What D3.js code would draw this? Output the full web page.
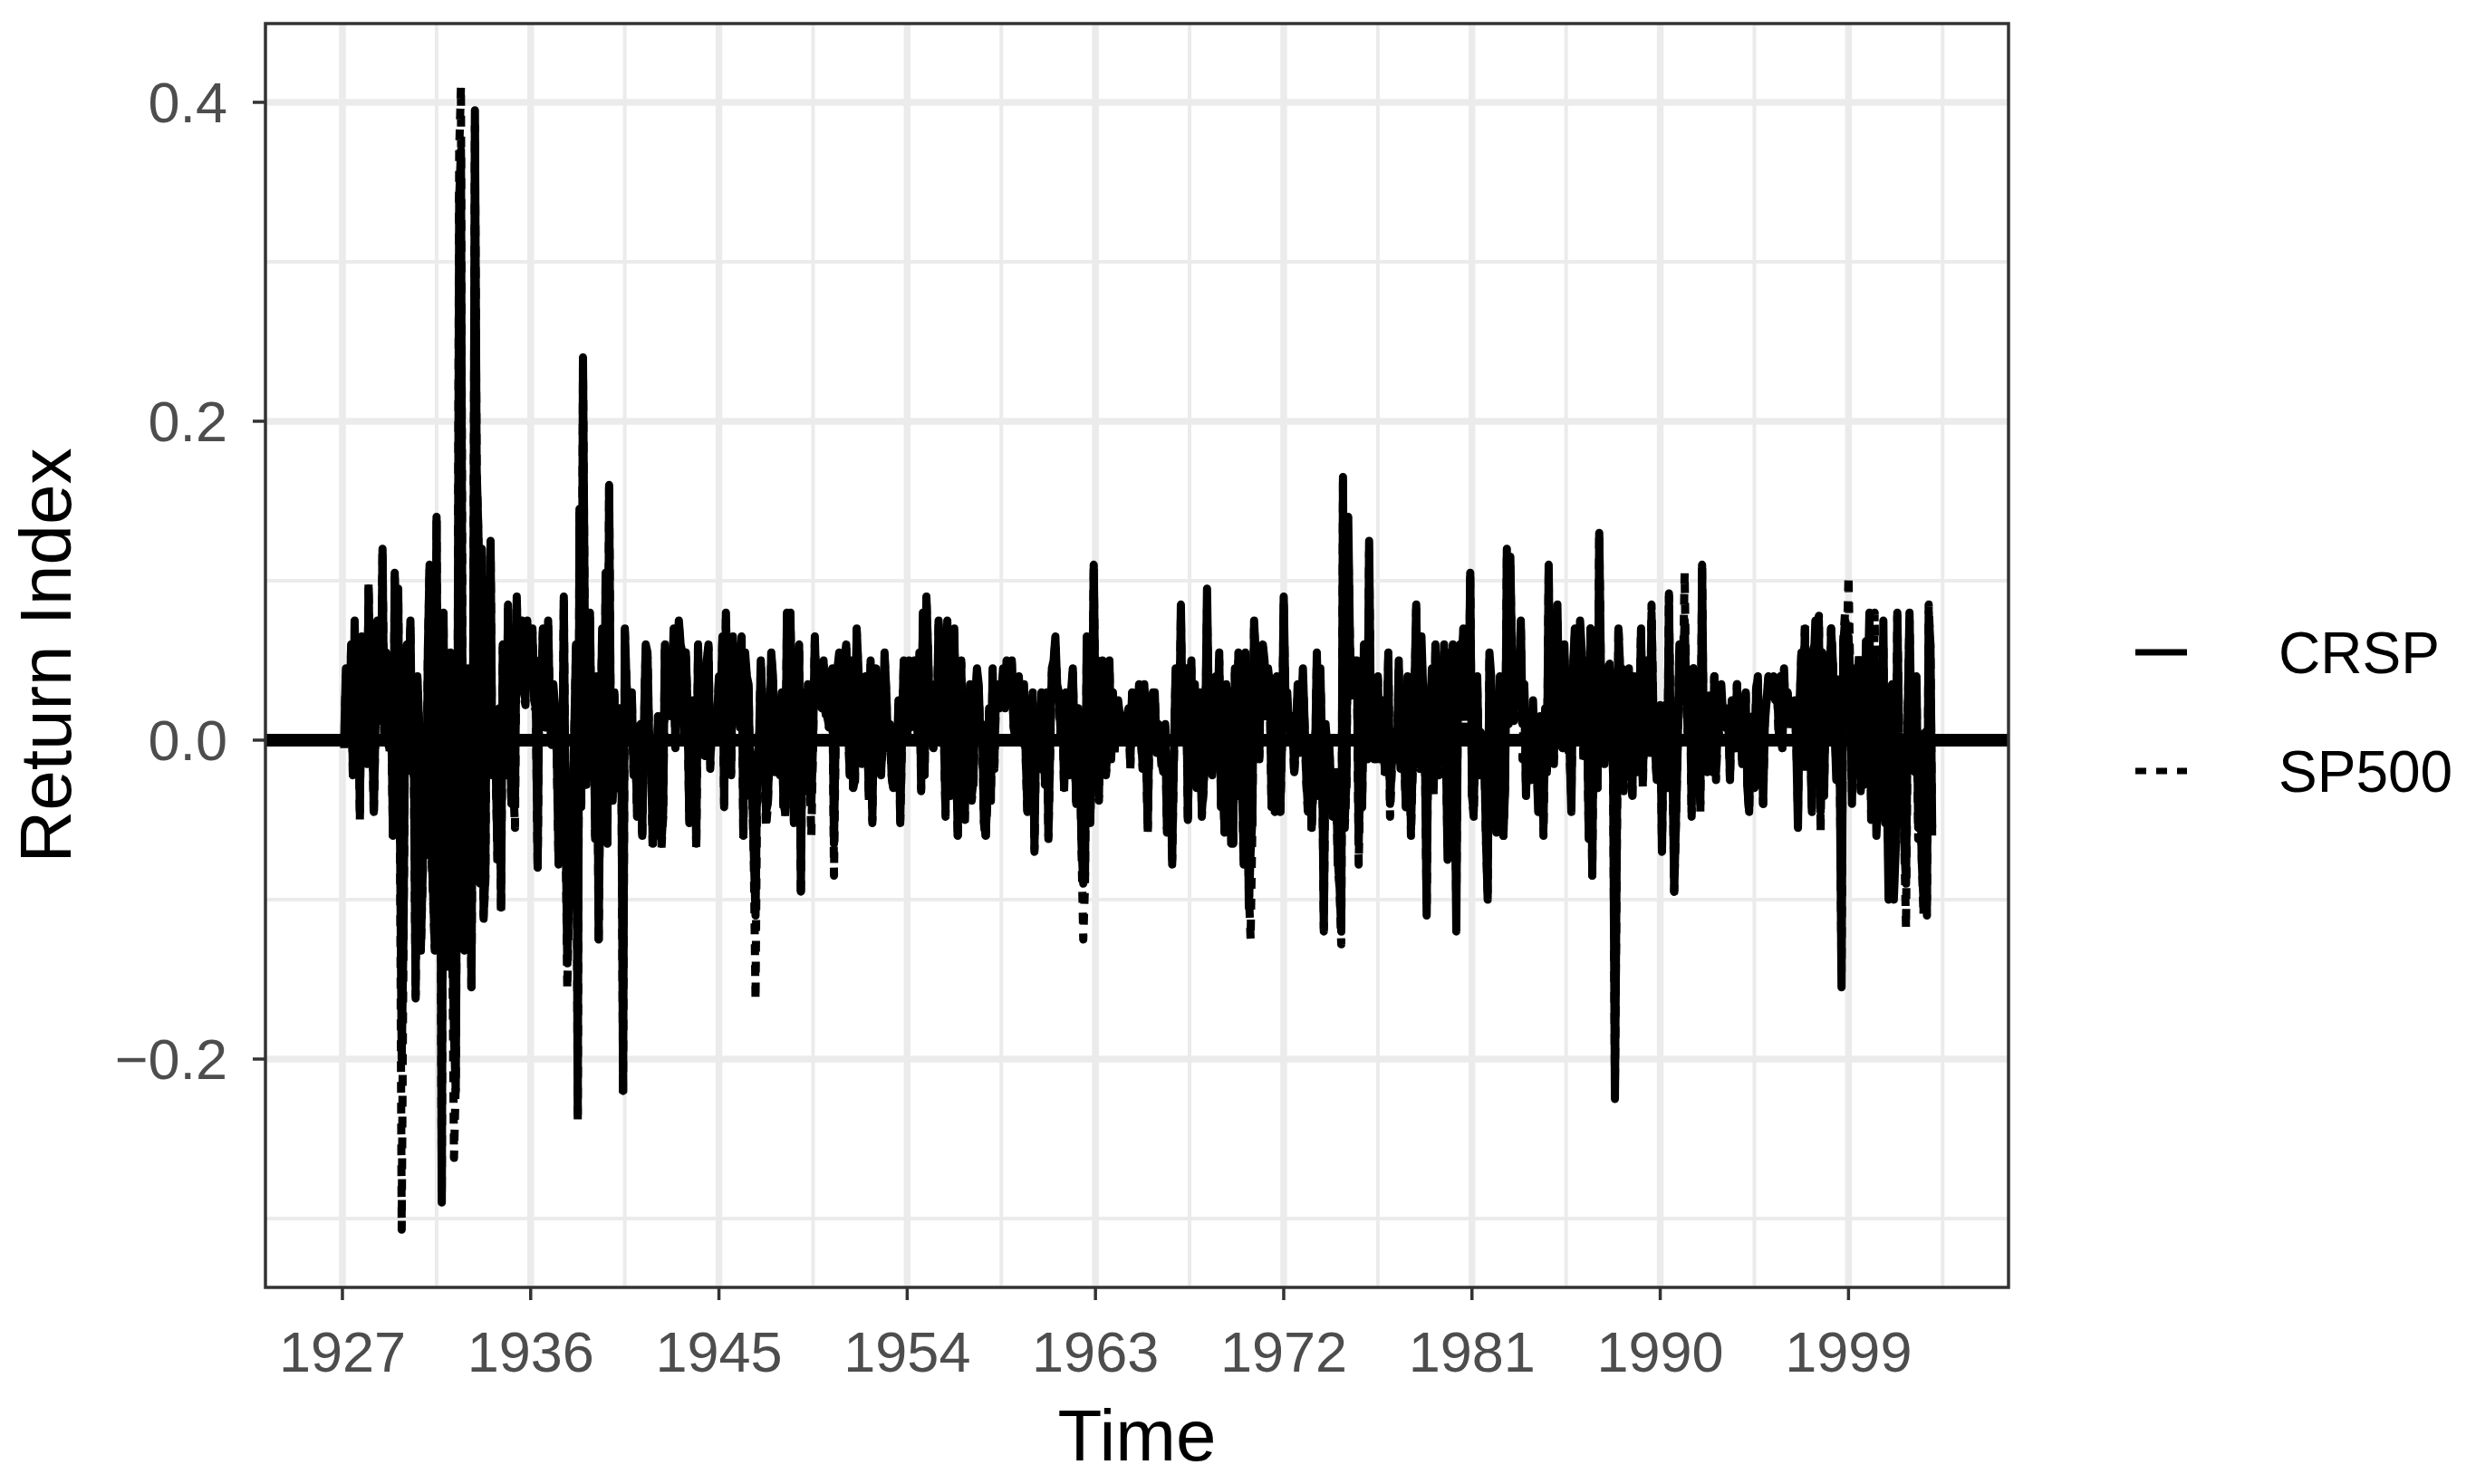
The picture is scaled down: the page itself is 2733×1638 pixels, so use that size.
<!DOCTYPE html>
<html><head><meta charset="utf-8">
<script src="https://cdn.jsdelivr.net/npm/d3@7"></script>
<style>body{margin:0;background:#fff}</style></head>
<body>
<svg id="chart" width="2733" height="1638"></svg>
<script>
// Monthly returns, Jan 1927 .. Dec 2002
const startYear = 1927;
const seriesNames = ["CRSP", "SP500"];
const crsp = [
/*1927*/ .000,.045,.008,.012,.060,-.022,.075,.020,.045,-.045,.065,.025,
/*1928*/ -.005,-.015,.095,.035,.015,-.045,.012,.075,.025,.015,.120,.005,
/*1929*/ .055,-.002,-.005,.018,-.060,.105,.045,.095,-.050,-.200,-.125,.020,
/*1930*/ .060,.025,.075,-.020,-.015,-.160,.040,.010,-.130,-.085,-.030,-.070,
/*1931*/ .055,.110,-.065,-.095,-.130,.140,-.070,.005,-.290,.080,-.090,-.140,
/*1932*/ -.020,.055,-.115,-.185,-.220,-.005,.340,.370,-.030,-.130,-.060,.045,
/*1933*/ .010,-.155,.035,.395,.170,.130,-.090,.120,-.110,-.085,.100,.020,
/*1934*/ .125,-.020,.000,-.020,-.075,.020,-.105,.060,-.003,-.020,.085,.005,
/*1935*/ -.040,-.025,-.040,.090,.040,.070,.075,.030,.025,.075,.050,.045,
/*1936*/ .070,.025,.020,-.080,.050,.030,.070,.010,.010,.075,.020,-.003,
/*1937*/ .035,.020,-.010,-.075,-.010,-.050,.090,-.050,-.140,-.100,-.085,-.045,
/*1938*/ .005,.060,-.235,.145,-.040,.240,.075,-.025,.010,.080,-.020,.040,
/*1939*/ -.060,.040,-.125,-.005,.070,-.050,.105,-.065,.160,-.005,-.035,.030,
/*1940*/ -.030,.010,.020,-.002,-.220,.070,.035,.020,.015,.030,-.020,.005,
/*1941*/ -.045,-.015,.010,-.060,.010,.060,.055,.000,-.007,-.065,-.025,-.045,
/*1942*/ .015,-.025,-.065,-.045,.060,.025,.035,.015,.025,.070,-.005,.055,
/*1943*/ .075,.060,.055,.005,.055,.020,-.050,.015,.025,-.010,-.065,.060,
/*1944*/ .017,.003,.025,-.010,.050,.060,-.015,.015,.000,.002,.015,.040,
/*1945*/ .020,.065,-.040,.080,.020,.000,-.020,.065,.045,.035,.050,.010,
/*1946*/ .065,-.060,.055,.040,.035,-.035,-.025,-.070,-.110,-.010,-.002,.050,
/*1947*/ .025,-.010,-.045,-.040,-.005,.055,.040,-.020,-.010,.025,-.020,.030,
/*1948*/ -.040,-.045,.080,.030,.080,.000,-.050,.005,-.030,.060,-.095,.030,
/*1949*/ .005,-.030,.035,-.020,-.040,.000,.065,.025,.030,.030,.020,.050,
/*1950*/ .020,.015,.010,.040,.045,-.065,.010,.045,.055,.005,.020,.050,
/*1951*/ .060,.015,-.020,.050,-.030,-.025,.070,.045,.000,-.015,.005,.040,
/*1952*/ .015,-.035,.050,-.050,.030,.045,.010,-.010,-.020,.000,.055,.030,
/*1953*/ -.005,.010,-.020,-.030,.000,-.015,.025,-.050,.000,.050,.030,.000,
/*1954*/ .050,.010,.035,.050,.030,.005,.055,-.030,.080,-.020,.090,.055,
/*1955*/ .010,.020,-.005,.035,.010,.075,.055,.000,.010,-.045,.075,.015,
/*1956*/ -.035,.040,.070,.000,-.060,.040,.050,-.035,-.050,.005,-.005,.035,
/*1957*/ -.035,-.025,.020,.045,.035,.000,.010,-.050,-.060,-.035,.020,-.035,
/*1958*/ .045,-.015,.035,.030,.020,.030,.045,.020,.050,.030,.030,.050,
/*1959*/ .010,.005,.000,.040,.020,.000,.035,-.010,-.045,.015,.015,.030,
/*1960*/ -.068,.010,-.015,-.015,.030,.020,-.025,.030,-.060,-.005,.045,.050,
/*1961*/ .065,.035,.030,.005,.025,-.030,.030,.025,-.020,.030,.045,.000,
/*1962*/ -.040,.020,-.005,-.065,-.090,-.085,.065,.020,-.050,.005,.110,.015,
/*1963*/ .050,-.035,.035,.050,.015,-.020,-.005,.050,-.010,.030,-.005,.020,
/*1964*/ .025,.015,.015,.005,.015,.015,.020,-.015,.030,.010,.000,.005,
/*1965*/ .035,.005,-.015,.035,-.005,-.055,.015,.025,.030,.030,-.005,.010,
/*1966*/ .005,-.015,-.020,.010,-.055,-.015,-.015,-.075,-.010,.045,.010,.000,
/*1967*/ .085,.010,.040,.045,-.050,.020,.050,-.010,.035,-.030,.005,.030,
/*1968*/ -.045,-.030,.005,.095,.020,.010,-.020,.015,.040,.010,.055,-.040,
/*1969*/ -.010,-.055,.035,.020,.000,-.065,-.065,.045,-.025,.055,-.035,-.020,
/*1970*/ -.075,.055,.000,-.105,-.070,-.050,.075,.050,.040,-.010,.050,.060,
/*1971*/ .050,.015,.045,.035,-.040,.000,-.045,.040,-.005,-.045,.000,.090,
/*1972*/ .025,.030,.010,.005,.015,-.020,.000,.035,-.005,.010,.045,.010,
/*1973*/ -.025,-.045,-.005,-.055,-.025,-.010,.055,-.035,.045,-.005,-.120,.010,
/*1974*/ -.005,.000,-.025,-.045,-.040,-.020,-.075,-.090,-.120,.165,-.050,-.025,
/*1975*/ .140,.060,.030,.045,.050,.050,-.065,-.020,-.040,.060,.030,-.010,
/*1976*/ .125,.010,.025,-.010,-.010,.040,-.010,.000,.025,-.020,.000,.055,
/*1977*/ -.040,-.015,-.010,.005,-.010,.050,-.015,-.015,-.002,-.040,.040,.005,
/*1978*/ -.055,-.015,.030,.085,.010,-.015,.065,.030,-.005,-.110,.030,.015,
/*1979*/ .045,-.030,.060,.005,-.015,.045,.010,.060,.000,-.075,.055,.020,
/*1980*/ .060,.000,-.120,.045,.060,.035,.070,.015,.030,.020,.105,-.035,
/*1981*/ -.045,.015,.040,-.020,.005,-.010,-.005,-.060,-.100,.055,.040,-.030,
/*1982*/ -.025,-.055,-.010,.040,-.035,-.060,-.030,.120,.010,.115,.045,.015,
/*1983*/ .040,.025,.035,.075,.010,.035,-.035,.010,.010,-.025,.025,-.010,
/*1984*/ -.010,-.045,.015,.005,-.055,.020,-.020,.110,.000,.000,-.010,.025,
/*1985*/ .085,.015,.000,-.005,.060,.015,.000,-.005,-.045,.045,.070,.045,
/*1986*/ .010,.075,.055,-.010,.050,.015,-.060,.070,-.085,.050,.015,-.030,
/*1987*/ .130,.040,.020,-.015,.005,.045,.045,.035,-.025,-.225,-.075,.070,
/*1988*/ .045,.045,-.025,.010,.005,.045,-.005,-.035,.040,.020,-.020,.015,
/*1989*/ .070,-.025,.020,.050,.040,-.005,.080,.020,-.005,-.025,.020,.020,
/*1990*/ -.070,.015,.020,-.030,.090,-.005,-.010,-.095,-.050,-.005,.060,.025,
/*1991*/ .045,.075,.025,.000,.040,-.045,.045,.025,-.015,.015,-.040,.110,
/*1992*/ -.005,.010,-.020,.025,.005,-.020,.040,-.020,.010,.010,.035,.015,
/*1993*/ .010,.010,.020,-.025,.025,.005,-.005,.035,.000,.015,-.015,.015,
/*1994*/ .030,-.030,-.045,.010,.010,-.030,.030,.040,-.025,.015,-.040,.010,
/*1995*/ .025,.040,.030,.030,.040,.025,.035,.005,.040,-.005,.045,.015,
/*1996*/ .030,.010,.010,.015,.025,.000,-.055,.025,.055,.020,.070,-.015,
/*1997*/ .055,.000,-.045,.045,.075,.045,.075,-.045,.055,-.035,.035,.015,
/*1998*/ .005,.070,.050,.010,-.025,.035,-.020,-.155,.060,.075,.060,.065,
/*1999*/ .040,-.040,.040,.045,-.020,.050,-.030,-.010,-.025,.060,.030,.080,
/*2000*/ -.045,.020,.055,-.060,-.035,.045,-.020,.075,-.050,-.025,-.100,.015,
/*2001*/ .035,-.100,-.070,.080,.005,-.020,-.015,-.065,-.090,.020,.080,.010,
/*2002*/ -.015,-.020,.040,-.055,-.010,-.075,-.100,.005,-.100,.080,.060,-.055
];
const sp500 = [
/*1927*/ -.005,.043,.006,.010,.058,-.025,.070,.018,.042,-.050,.062,.022,
/*1928*/ -.008,-.018,.098,.032,.012,-.048,.010,.072,.022,.012,.118,.002,
/*1929*/ .052,-.005,-.008,.015,-.062,.102,.042,.092,-.052,-.307,-.130,.018,
/*1930*/ .058,.022,.072,-.022,-.018,-.162,.038,.008,-.132,-.088,-.032,-.072,
/*1931*/ .052,.108,-.068,-.098,-.132,.138,-.072,.002,-.285,.078,-.092,-.142,
/*1932*/ -.022,.052,-.118,-.262,-.215,-.008,.370,.410,-.032,-.132,-.062,.042,
/*1933*/ .008,-.158,.032,.385,.168,.128,-.092,.118,-.112,-.088,.098,.018,
/*1934*/ .120,-.022,-.002,-.022,-.078,.018,-.108,.058,-.005,-.022,.082,.002,
/*1935*/ -.042,-.028,-.055,.088,.038,.068,.072,.028,.022,.072,.048,.042,
/*1936*/ .068,.022,.018,-.082,.048,.028,.068,.008,.008,.072,.018,-.005,
/*1937*/ .032,.018,-.012,-.078,-.012,-.052,.088,-.052,-.156,-.102,-.088,-.048,
/*1938*/ .002,.058,-.240,.142,-.042,.235,.072,-.028,.008,.078,-.022,.038,
/*1939*/ -.062,.038,-.128,-.008,.068,-.052,.102,-.068,.158,-.008,-.038,.028,
/*1940*/ -.032,.008,.018,-.005,-.222,.068,.032,.018,.012,.028,-.022,.002,
/*1941*/ -.048,-.018,.008,-.062,.008,.058,.052,-.002,-.010,-.068,-.028,-.048,
/*1942*/ .012,-.028,-.068,-.048,.058,.022,.032,.012,.022,.068,-.008,.052,
/*1943*/ .072,.058,.052,.002,.052,.018,-.052,.012,.022,-.012,-.068,.058,
/*1944*/ .015,.000,.022,-.012,.048,.058,-.018,.012,-.002,.000,.012,.038,
/*1945*/ .018,.062,-.042,.078,.018,-.002,-.022,.062,.042,.032,.048,.008,
/*1946*/ .062,-.062,.052,.038,.032,-.038,-.028,-.075,-.163,-.012,-.005,.048,
/*1947*/ .022,-.012,-.055,-.042,-.008,.052,.038,-.022,-.012,.022,-.022,.028,
/*1948*/ -.042,-.048,.078,.028,.078,-.002,-.052,.002,-.032,.058,-.098,.028,
/*1949*/ .002,-.032,.032,-.022,-.060,-.002,.062,.022,.028,.028,.018,.048,
/*1950*/ .018,.012,.008,.038,.042,-.085,.008,.042,.052,.002,.018,.048,
/*1951*/ .058,.012,-.022,.048,-.032,-.028,.068,.042,-.002,-.018,.002,.038,
/*1952*/ .012,-.038,.048,-.052,.028,.042,.008,-.012,-.022,-.002,.052,.028,
/*1953*/ -.008,.008,-.022,-.032,-.002,-.018,.022,-.052,-.002,.048,.028,-.002,
/*1954*/ .048,.008,.032,.048,.028,.002,.052,-.032,.078,-.022,.088,.052,
/*1955*/ .008,.018,-.008,.032,.008,.072,.052,-.002,.008,-.048,.072,.012,
/*1956*/ -.038,.038,.068,-.002,-.062,.038,.048,-.038,-.052,.002,-.008,.032,
/*1957*/ -.038,-.028,.018,.042,.032,-.002,.008,-.052,-.062,-.038,.018,-.038,
/*1958*/ .042,-.018,.032,.028,.018,.028,.042,.018,.048,.028,.028,.048,
/*1959*/ .008,.002,-.002,.038,.018,-.002,.032,-.012,-.048,.012,.012,.028,
/*1960*/ -.070,.008,-.018,-.018,.028,.018,-.028,.028,-.062,-.008,.042,.048,
/*1961*/ .062,.032,.028,.002,.022,-.032,.028,.022,-.022,.028,.042,-.002,
/*1962*/ -.042,.018,-.008,-.068,-.125,-.090,.062,.018,-.052,.002,.108,.012,
/*1963*/ .048,-.038,.032,.048,.012,-.022,-.008,.048,-.012,.028,-.008,.018,
/*1964*/ .022,.012,.012,.002,.012,.012,.018,-.018,.028,.008,-.002,.002,
/*1965*/ .032,.002,-.018,.032,-.008,-.058,.012,.022,.028,.028,-.008,.008,
/*1966*/ .002,-.018,-.022,.008,-.058,-.018,-.018,-.078,-.012,.042,.008,-.002,
/*1967*/ .078,.002,.038,.042,-.052,.018,.045,-.012,.032,-.032,.002,.028,
/*1968*/ -.048,-.032,.002,.082,.015,.008,-.022,.012,.038,.008,.050,-.042,
/*1969*/ -.012,-.058,.032,.018,-.002,-.068,-.068,.042,-.028,.052,-.038,-.022,
/*1970*/ -.078,.052,-.002,-.095,-.125,-.055,.072,.048,.035,-.012,.048,.058,
/*1971*/ .042,.012,.038,.032,-.042,-.002,-.048,.038,-.008,-.048,-.002,.085,
/*1972*/ .018,.025,.008,.002,.012,-.022,-.002,.032,-.008,.008,.042,.008,
/*1973*/ -.028,-.048,-.008,-.058,-.028,-.012,.052,-.038,.042,-.008,-.118,.008,
/*1974*/ -.008,-.002,-.028,-.048,-.042,-.022,-.078,-.092,-.128,.162,-.055,-.028,
/*1975*/ .125,.058,.028,.042,.048,.045,-.078,-.022,-.042,.058,.028,-.012,
/*1976*/ .118,.002,.022,-.012,-.012,.038,-.012,-.002,.022,-.022,-.002,.052,
/*1977*/ -.048,-.018,-.012,.002,-.012,.045,-.018,-.018,-.005,-.042,.035,.002,
/*1978*/ -.060,-.018,.025,.082,.008,-.018,.055,.028,-.008,-.105,.018,.012,
/*1979*/ .040,-.035,.055,.002,-.022,.040,.008,.055,-.002,-.068,.045,.015,
/*1980*/ .058,-.005,-.102,.040,.045,.028,.065,.005,.025,.015,.102,-.035,
/*1981*/ -.048,.012,.035,-.022,-.002,-.012,-.002,-.062,-.095,.050,.035,-.030,
/*1982*/ -.020,-.058,-.010,.038,-.038,-.060,-.025,.115,.008,.110,.040,.012,
/*1983*/ .032,.018,.032,.072,-.012,.035,-.032,.012,.010,-.018,.018,-.010,
/*1984*/ -.010,-.040,.012,.005,-.060,.018,-.018,.105,-.002,.000,-.015,.022,
/*1985*/ .075,.012,-.002,-.005,.055,.012,-.005,-.010,-.035,.042,.065,.045,
/*1986*/ .002,.070,.052,-.015,.050,.012,-.062,.070,-.085,.055,.020,-.030,
/*1987*/ .130,.035,.025,-.012,.005,.045,.048,.035,-.025,-.218,-.085,.072,
/*1988*/ .040,.042,-.032,.008,.002,.042,-.005,-.038,.040,.025,-.018,.015,
/*1989*/ .070,-.030,.020,.050,.035,-.008,.085,.018,-.005,-.025,.018,.022,
/*1990*/ -.068,.010,.022,-.028,.092,-.010,-.005,-.095,-.052,-.002,.058,.025,
/*1991*/ .040,.105,.022,.000,.038,-.048,.045,.020,-.020,.012,-.045,.110,
/*1992*/ -.020,.010,-.022,.028,.002,-.018,.040,-.025,.010,.002,.030,.010,
/*1993*/ .008,.010,.018,-.025,.022,.000,-.005,.035,-.010,.020,-.012,.010,
/*1994*/ .032,-.030,-.045,.012,.015,-.028,.032,.040,-.028,.020,-.040,.012,
/*1995*/ .025,.038,.030,.028,.036,.022,.032,.000,.040,-.005,.041,.018,
/*1996*/ .032,.008,.008,.014,.022,.002,-.045,.020,.055,.025,.072,-.020,
/*1997*/ .060,.005,-.042,.058,.060,.042,.078,-.058,.052,-.035,.045,.015,
/*1998*/ .010,.070,.050,.010,-.018,.038,-.012,-.145,.062,.080,.058,.103,
/*1999*/ .040,-.032,.040,.038,-.025,.055,-.032,-.005,-.028,.062,.020,.058,
/*2000*/ -.050,-.020,.080,-.030,-.022,.025,-.015,.060,-.052,-.005,-.080,.005,
/*2001*/ .035,-.092,-.065,.078,.005,-.025,-.010,-.065,-.118,.018,.075,.008,
/*2002*/ -.015,-.020,.035,-.062,-.010,-.072,-.110,.005,-.110,.085,.058,-.062
];
const xTicks = [1927, 1936, 1945, 1954, 1963, 1972, 1981, 1990, 1999];
const xMinor = [1931.5, 1940.5, 1949.5, 1958.5, 1967.5, 1976.5, 1985.5, 1994.5, 2003.5];
const yTicks = [-0.2, 0, 0.2, 0.4];
const yTickLabels = ["\u22120.2", "0.0", "0.2", "0.4"];
const yMinor = [-0.3, -0.1, 0.1, 0.3];

const svg = d3.select("#chart");
const P = {left: 293, right: 2217, top: 26, bottom: 1421};
const x = d3.scaleLinear().domain([1923.32, 2006.65]).range([P.left, P.right]);
const y = d3.scaleLinear().domain([-0.3432, 0.4494]).range([P.bottom, P.top]);
const FONT = "'Liberation Sans', Arial, Helvetica, sans-serif";
const LW = 9;
const DASH = "12,11";

svg.append("rect").attr("width", 2733).attr("height", 1638).attr("fill", "#fff");

const grid = svg.append("g").attr("stroke", "#EBEBEB");
grid.selectAll(".vmin").data(xMinor.filter(v => v < x.domain()[1])).join("line")
  .attr("x1", d => x(d)).attr("x2", d => x(d)).attr("y1", P.top).attr("y2", P.bottom)
  .attr("stroke-width", 4);
grid.selectAll(".hmin").data(yMinor).join("line")
  .attr("y1", d => y(d)).attr("y2", d => y(d)).attr("x1", P.left).attr("x2", P.right)
  .attr("stroke-width", 4);
grid.selectAll(".vmaj").data(xTicks).join("line")
  .attr("x1", d => x(d)).attr("x2", d => x(d)).attr("y1", P.top).attr("y2", P.bottom)
  .attr("stroke-width", 7.5);
grid.selectAll(".hmaj").data(yTicks).join("line")
  .attr("y1", d => y(d)).attr("y2", d => y(d)).attr("x1", P.left).attr("x2", P.right)
  .attr("stroke-width", 7.5);

svg.append("clipPath").attr("id", "clip").append("rect")
  .attr("x", P.left).attr("y", P.top).attr("width", P.right - P.left).attr("height", P.bottom - P.top);

const timeOf = i => startYear + (i + 1) / 12;
const line = d3.line().x((d, i) => x(timeOf(i))).y(d => y(d));
const plot = svg.append("g").attr("clip-path", "url(#clip)");
plot.append("path").datum(crsp).attr("d", line)
  .attr("fill", "none").attr("stroke", "#000").attr("stroke-width", LW)
  .attr("stroke-linejoin", "round").attr("stroke-linecap", "butt");
plot.append("path").datum(sp500).attr("d", line)
  .attr("fill", "none").attr("stroke", "#000").attr("stroke-width", LW)
  .attr("stroke-linejoin", "round").attr("stroke-linecap", "butt")
  .attr("stroke-dasharray", DASH);
plot.append("line").attr("x1", P.left).attr("x2", P.right)
  .attr("y1", y(0)).attr("y2", y(0)).attr("stroke", "#000").attr("stroke-width", 14);

svg.append("rect").attr("x", P.left).attr("y", P.top)
  .attr("width", P.right - P.left).attr("height", P.bottom - P.top)
  .attr("fill", "none").attr("stroke", "#333333").attr("stroke-width", 3.5);

const xAxis = svg.append("g");
xAxis.selectAll("line").data(xTicks).join("line")
  .attr("x1", d => x(d)).attr("x2", d => x(d)).attr("y1", P.bottom).attr("y2", P.bottom + 14)
  .attr("stroke", "#333333").attr("stroke-width", 3.5);
xAxis.selectAll("text").data(xTicks).join("text")
  .attr("x", d => x(d)).attr("y", 1514).attr("text-anchor", "middle")
  .attr("font-family", FONT).attr("font-size", 63).attr("fill", "#4D4D4D").text(d => d);

const yAxis = svg.append("g");
yAxis.selectAll("line").data(yTicks).join("line")
  .attr("x1", P.left - 14).attr("x2", P.left).attr("y1", d => y(d)).attr("y2", d => y(d))
  .attr("stroke", "#333333").attr("stroke-width", 3.5);
yAxis.selectAll("text").data(yTicks).join("text")
  .attr("x", 251).attr("y", d => y(d) + 22).attr("text-anchor", "end")
  .attr("font-family", FONT).attr("font-size", 63).attr("fill", "#4D4D4D")
  .text((d, i) => yTickLabels[i]);

svg.append("text").attr("x", (P.left + P.right) / 2).attr("y", 1612).attr("text-anchor", "middle")
  .attr("font-family", FONT).attr("font-size", 80).attr("fill", "#000").text("Time");
svg.append("text").attr("transform", `translate(78,${(P.top + P.bottom) / 2}) rotate(-90)`)
  .attr("text-anchor", "middle").attr("font-family", FONT).attr("font-size", 80)
  .attr("fill", "#000").text("Return Index");

const legY = [720, 851];
const leg = svg.append("g");
seriesNames.forEach((name, i) => {
  leg.append("line").attr("x1", 2357).attr("x2", 2414).attr("y1", legY[i]).attr("y2", legY[i])
    .attr("stroke", "#000").attr("stroke-width", 7)
    .attr("stroke-dasharray", i === 1 ? DASH : null);
  leg.append("text").attr("x", 2515).attr("y", legY[i] + 23)
    .attr("font-family", FONT).attr("font-size", 64).attr("fill", "#000").text(name);
});
</script>
</body></html>
